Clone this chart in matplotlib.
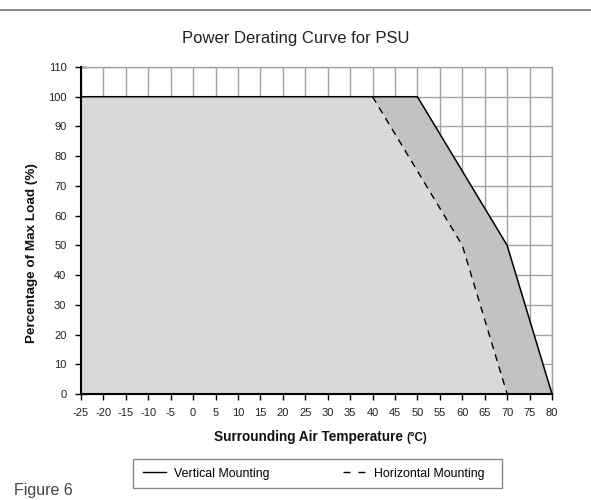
import matplotlib
matplotlib.use("Agg")
import matplotlib.pyplot as plt
from matplotlib.lines import Line2D
from matplotlib.patches import Rectangle
import numpy as np

plt.rcParams['font.family'] = ['Liberation Sans', 'DejaVu Sans']

# Data
vert_temp = [-25, 50, 70, 80]
vert_load = [100, 100, 50, 0]
horiz_temp = [40, 60, 70]
horiz_load = [100, 50, 0]
x_ticks = list(range(-25, 81, 5))
y_ticks = list(range(0, 111, 10))

fig = plt.figure(figsize=(5.91, 5.0), dpi=100)
ax = fig.add_axes([0.137, 0.212, 0.797, 0.654])

ax.set_xlim(-25, 80)
ax.set_ylim(0, 110)
ax.set_xticks(x_ticks)
ax.set_yticks(y_ticks)
ax.grid(True, color='#a3a3a3', linewidth=1.0, zorder=0)
ax.set_axisbelow(True)

# fills
ht_full = [-25] + horiz_temp
hl_full = [100] + horiz_load
xs = np.array(sorted(set(vert_temp + ht_full)))
v_interp = np.interp(xs, vert_temp, vert_load)
h_interp = np.interp(xs, ht_full, hl_full, right=0)
ax.fill_between(xs, 0, v_interp, color='#c1c2c1', linewidth=0, zorder=1)
ax.fill_between(xs, 0, h_interp, color='#d8d9d9', linewidth=0, zorder=2)

# lines
ax.plot(vert_temp, vert_load, color='black', linewidth=1.1, zorder=4, clip_on=False)
ax.plot(horiz_temp, horiz_load, color='black', linewidth=1.0, dashes=(5, 4), zorder=4)

for s in ['top', 'right']:
    ax.spines[s].set_color('#a3a3a3')
    ax.spines[s].set_linewidth(1.0)
for s in ['left', 'bottom']:
    ax.spines[s].set_color('black')
    ax.spines[s].set_linewidth(1.5)
    ax.spines[s].set_zorder(5)

ax.tick_params(axis='both', direction='inout', length=8, width=1.0, colors='black',
               labelsize=8, labelcolor='#222222')
ax.tick_params(axis='x', pad=6)
ax.tick_params(axis='y', pad=6.5)
ax.set_xticklabels([str(t) for t in x_ticks])
ax.set_yticklabels([str(t) for t in y_ticks])

# axis labels
fig.text(32 / 591, 1 - 253 / 500, 'Percentage of Max Load (%)', rotation=90,
         ha='center', va='center', fontsize=9.7, fontweight='bold', color='#111111')
fig.text(309 / 591, 1 - 441 / 500, 'Surrounding Air Temperature', ha='center',
         va='baseline', fontsize=9.8, fontweight='bold', color='#111111')
fig.text(406 / 591, 1 - 441 / 500, '(°C)', ha='left', va='baseline',
         fontsize=8.3, fontweight='bold', color='#111111')

fig.text(0.5, 0.924, 'Power Derating Curve for PSU', ha='center', va='center',
         fontsize=12, color='#222222')

handles = [Line2D([0], [0], color='black', linewidth=1.0),
           Line2D([0], [0], color='black', linewidth=1.0, dashes=(5, 5.8))]
leg = fig.legend(handles, ['Vertical Mounting', 'Horizontal Mounting'],
                 loc='center', bbox_to_anchor=(0.531, 0.053), ncol=2,
                 fontsize=8.9, frameon=False,
                 handlelength=1.8, columnspacing=6, borderpad=0.6, handletextpad=0.65)
fig.add_artist(Rectangle((133 / 591, 1 - 488 / 500), (502 - 133) / 591, 29 / 500,
                         transform=fig.transFigure, facecolor='white',
                         edgecolor='#888888', linewidth=1.0, zorder=0))

fig.text(14 / 591, 1 - 490 / 500, 'Figure 6', fontsize=11.5, color='#444444',
         ha='left', va='center')

fig.add_artist(Line2D([0, 1], [0.981, 0.981], color='#777777', linewidth=1.2,
                      transform=fig.transFigure))

fig.savefig('out.png', dpi=100)
